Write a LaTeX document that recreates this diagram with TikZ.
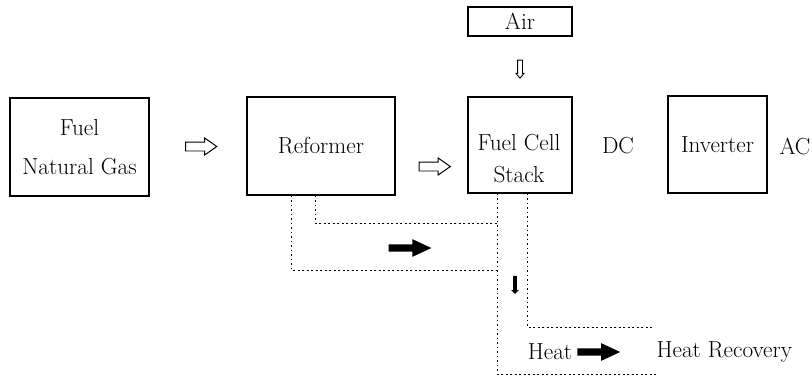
\documentclass[tikz,border=0pt]{standalone}
\usepackage{tikz}
\usetikzlibrary{shapes.arrows, positioning, calc}
\tikzset{
  unit/.style={rectangle, draw=black, line width=0.8pt, inner sep=2pt, font=\fontsize{16.5}{20}\selectfont, align=center},
  tag/.style={font=\fontsize{16.5}{20}\selectfont, inner sep=1pt},
  flow/.style={single arrow, draw=black, line width=0.7pt, fill=white, inner sep=0.1cm, minimum height=0.78cm, single arrow head extend=0.1cm, single arrow tip angle=70},
  heatflow/.style={single arrow, fill=black, inner sep=0.085cm, minimum height=1.07cm, single arrow head extend=0.13cm, single arrow tip angle=50},
  pipe/.style={line width=0.5pt, dash pattern=on 1.2pt off 2pt}
}

\begin{document}
\begin{tikzpicture}[x=0.025cm, y=-0.025cm]
    \useasboundingbox (0,0) rectangle (812,376);

    % 1. Bloques principales
    \node[unit, minimum width=3.475cm, minimum height=2.45cm] (fuel) at (79.5,147) {Fuel\\[0.27cm]Natural Gas};
    \node[unit, minimum width=3.7cm, minimum height=2.45cm] (reformer) at (321,146) {Reformer};
    \node[unit, minimum width=2.6cm, minimum height=0.725cm] (air) at (520,21.5) {Air};
    \node[unit, minimum width=2.6cm, minimum height=2.4cm] (stack) at (520,145) {};
    \node[tag, align=center] (stacklbl) at (519,159) {Fuel Cell\\[0.1cm]Stack};
    \node[unit, minimum width=2.475cm, minimum height=2.425cm] (inverter) at (717.5,144.5) {Inverter};
    \node[tag] (dc) at (618,146) {DC};
    \node[tag] (ac) at (795,146) {AC};

    % 2. Flechas huecas
    \node[flow] (gasflow) at ($(fuel.east)!0.5!(reformer.west)$) {};
    \node[flow] (h2flow) at ($(reformer.east)!0.5!(stack.west)+(0,21)$) {};
    \node[flow, shape border rotate=270, minimum height=0.45cm, inner sep=0.05cm, single arrow head extend=0.04cm, single arrow tip angle=80, line width=0.6pt] (airflow) at ($(air.south)!0.52!(stack.north)$) {};

    % 3. Conductos de calor
    \path (reformer.south west) ++(45,0) coordinate (r1) ++(24,0) coordinate (r2);
    \path (stack.south west) ++(30,0) coordinate (s1) ++(30,0) coordinate (s2);
    \draw[pipe] (r1) |- (s1 |- 0,270);
    \draw[pipe] (r2) |- (s1 |- 0,223);
    \draw[pipe] (s1) |- (657,374);
    \draw[pipe] (s2) |- (652,327);

    % 4. Flechas de calor
    \node[heatflow] (midflow) at (406,248) {};
    \node[single arrow, fill=black, shape border rotate=270, inner sep=0.04cm, minimum height=0.45cm, single arrow head extend=0.05cm] (downflow) at (515,284) {};
    \node[tag] (heat) at (550,352) {Heat};
    \node[heatflow, right=0.08cm of heat] (heatflow) {};
    \node[tag, right=0.85cm of heatflow] (recovery) {Heat Recovery};

\end{tikzpicture}
\end{document}
